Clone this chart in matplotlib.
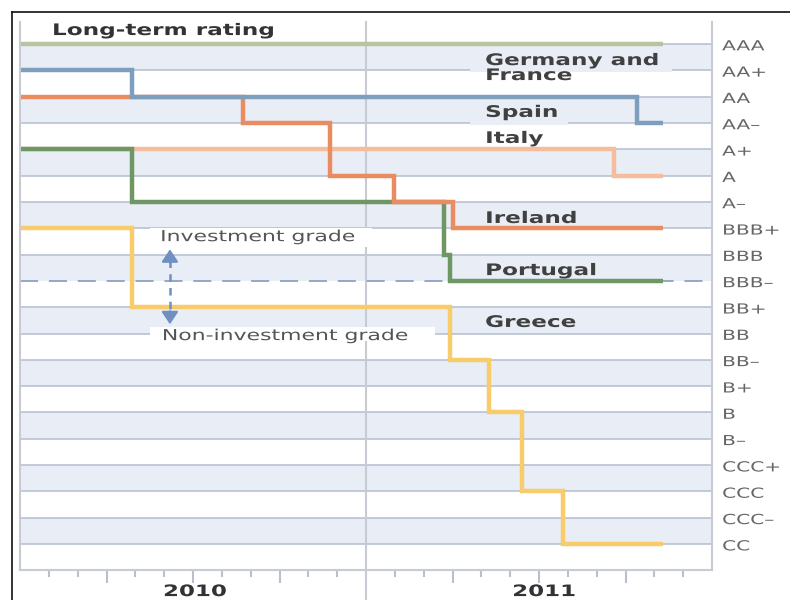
import matplotlib
matplotlib.use("Agg")
import matplotlib.pyplot as plt
import matplotlib.patheffects as pe
from matplotlib.transforms import Affine2D
from matplotlib.lines import Line2D
from matplotlib.patches import Rectangle

# rating scale, best at the top (index 0 = AAA)
ratings = ["AAA", "AA+", "AA", "AA–", "A+", "A", "A–", "BBB+", "BBB", "BBB–",
           "BB+", "BB", "BB–", "B+", "B", "B–", "CCC+", "CCC", "CCC–", "CC"]
years = ["2010", "2011"]

# dates in months since 1 Jan 2010, rating index after each change
germany_x = [0, 22.3]
germany_y = [0, 0]
spain_x = [0, 3.9, 21.4, 22.3]
spain_y = [1, 2, 3, 3]
italy_x = [0, 20.6, 22.3]
italy_y = [4, 5, 5]
ireland_x = [0, 7.75, 10.75, 12.97, 15.0, 22.3]
ireland_y = [2, 3, 5, 6, 7, 7]
portugal_x = [0, 3.9, 14.7, 14.9, 22.3]
portugal_y = [4, 6, 8, 9, 9]
greece_x = [0, 3.88, 14.92, 16.27, 17.42, 18.83, 22.3]
greece_y = [7, 10, 12, 14, 17, 19, 19]

invest_cut = 9  # BBB-


class Widen(pe.AbstractPathEffect):
    """Stretch glyphs horizontally from the text's left edge."""

    def __init__(self, sx=1.45):
        super().__init__()
        self.sx = sx

    def draw_path(self, renderer, gc, tpath, affine, rgbFace=None):
        renderer.draw_path(gc, tpath, Affine2D().scale(self.sx, 1) + affine, rgbFace)


wide = [Widen(1.45)]

band = "#e8edf6"
grid = "#b3bccf"
frame = "#c6cbd4"

fig = plt.figure(figsize=(7.9, 6), dpi=100)
ax = fig.add_axes([20 / 790, 30 / 600, 692 / 790, 548 / 600])
ax.set_xlim(0, 24)
ax.set_ylim(19.985, -0.836)

# alternating bands and rating grid
for i in range(0, len(ratings) - 1, 2):
    ax.axhspan(i, i + 1, color=band, lw=0, zorder=0)
for i in range(len(ratings)):
    if i != invest_cut:
        ax.axhline(i, color=grid, lw=1.1, zorder=1)
ax.axhline(invest_cut, color="#8ba2c1", lw=1.3, dashes=(10, 6), zorder=1.6)

# year divider runs down past the axis
ax.plot([12, 12], [-0.836, 21.5], color=frame, lw=1.5, zorder=1.2, clip_on=False)

# cut-outs behind the labels
gaps = [(15.6, 22.6, 0.9, 1.06, band),
        (15.6, 19.0, 2.9, 3.06, band),
        (4.5, 12.2, 6.98, 7.7, "white"),
        (4.5, 14.4, 10.75, 11.3, "white")]
for x0, x1, y0, y1, c in gaps:
    ax.add_patch(Rectangle((x0, y0), x1 - x0, y1 - y0, facecolor=c,
                           edgecolor="none", zorder=1.5))

series = [
    (germany_x, germany_y, "#b7c49e"),
    (italy_x, italy_y, "#f6bc9e"),
    (portugal_x, portugal_y, "#6f9763"),
    (ireland_x, ireland_y, "#ea8b60"),
    (spain_x, spain_y, "#7e9ebe"),
    (greece_x, greece_y, "#f8cb6b"),
]
for k, (xs, ys, c) in enumerate(series):
    ax.plot(xs, ys, drawstyle="steps-post", color=c, lw=3.2,
            solid_capstyle="butt", solid_joinstyle="miter", zorder=2 + k * 0.1)

# country labels
name_col = "#404040"
labels = [("Germany and", 0.80), ("France", 1.37), ("Spain", 2.77),
          ("Italy", 3.76), ("Ireland", 6.80), ("Portugal", 8.78),
          ("Greece", 10.75)]
for txt, yy in labels:
    ax.text(16.13, yy, txt, ha="left", va="baseline", fontsize=11.5,
            fontweight="bold", color=name_col, path_effects=wide, zorder=3)

ax.text(1.11, -0.34, "Long-term rating", ha="left", va="baseline", fontsize=11.5,
        fontweight="bold", color="#333333", path_effects=wide, zorder=3)

# investment grade boundary marker
ax.text(4.86, 7.49, "Investment grade", ha="left", va="baseline", fontsize=10.9,
        color="#555555", path_effects=wide, zorder=3)
ax.text(4.92, 11.25, "Non-investment grade", ha="left", va="baseline",
        fontsize=10.9, color="#555555", path_effects=wide, zorder=3)
arrow_col = "#6f90c0"
head = "-|>,head_length=0.75,head_width=0.5"
ax.plot([5.2, 5.2], [8.2, 10.25], color=arrow_col, lw=1.8, dashes=(3, 2.5), zorder=2.8)
ax.annotate("", xy=(5.2, 7.8), xytext=(5.2, 8.3),
            arrowprops=dict(arrowstyle=head, color=arrow_col, lw=1.6,
                            shrinkA=0, shrinkB=0), zorder=2.8)
ax.annotate("", xy=(5.2, 10.65), xytext=(5.2, 10.15),
            arrowprops=dict(arrowstyle=head, color=arrow_col, lw=1.6,
                            shrinkA=0, shrinkB=0), zorder=2.8)

# rating names on the right
for i, r in enumerate(ratings):
    ax.text(24.35, i + 0.24, r, ha="left", va="baseline", fontsize=10,
            color="#666666", path_effects=wide, clip_on=False)

# month ticks, longer at quarter ends
ax.set_xticks([3, 6, 9, 15, 18, 21])
ax.set_xticks([m for m in range(1, 24) if m % 3 != 0], minor=True)
ax.tick_params(axis="x", which="major", length=9.5, width=1.5, color="#b9c0cd",
               labelbottom=False)
ax.tick_params(axis="x", which="minor", length=5, width=1.5, color="#b9c0cd")
ax.set_yticks([])
for x_left, yr in zip([4.96, 17.07], years):
    ax.text(x_left, 21.09, yr, ha="left", va="bottom", fontsize=11.4,
            fontweight="bold", color="#333333", path_effects=wide, clip_on=False)

for side in ["left", "right", "bottom"]:
    ax.spines[side].set_color(frame)
    ax.spines[side].set_linewidth(1.5)
ax.spines["top"].set_visible(False)

# outer frame
fig.add_artist(Line2D([12 / 790, 1], [1 - 12 / 600, 1 - 12 / 600],
                      color="#111111", lw=1.2, transform=fig.transFigure))
fig.add_artist(Line2D([12 / 790, 12 / 790], [0, 1 - 12 / 600],
                      color="#111111", lw=1.2, transform=fig.transFigure))

fig.savefig("out.png", dpi=100)
